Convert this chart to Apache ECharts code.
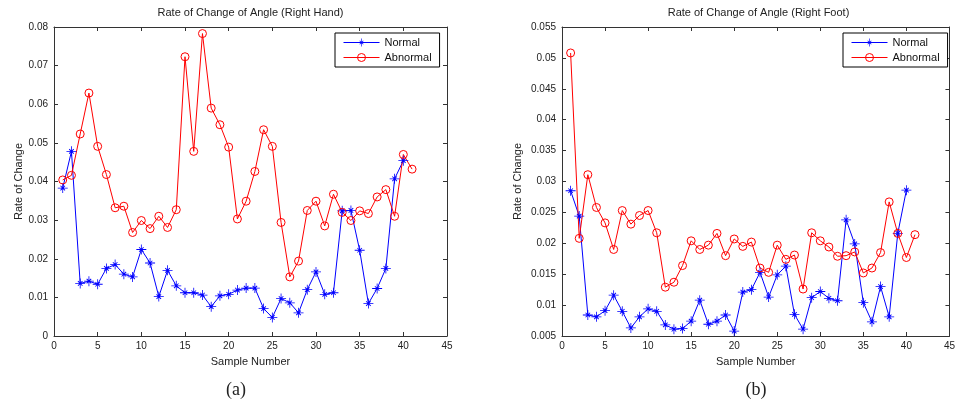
<!DOCTYPE html>
<html>
<head>
<meta charset="utf-8">
<script src="https://cdn.jsdelivr.net/npm/echarts@6/dist/echarts.min.js"></script>
<style>
html,body{margin:0;padding:0;background:#fff;}
#c{width:958px;height:408px;}
</style>
</head>
<body>
<div id="c"></div>
<script>
// ---- data ----
const seriesNames = ['Normal', 'Abnormal'];
const titles = ['Rate of Change of Angle (Right Hand)', 'Rate of Change of Angle (Right Foot)'];
const panelLabels = ['(a)', '(b)'];
const xTicks = [0, 45, 5];           // min, max, interval
const yTicksHand = [0, 0.08, 0.01];
const yTicksFoot = [0.005, 0.055, 0.005];

const handNormal = [0.0383,0.0478,0.0136,0.0142,0.0134,0.0175,0.0185,0.0160,0.0153,0.0224,
  0.0189,0.0102,0.0170,0.0130,0.0112,0.0112,0.0106,0.0076,0.0104,0.0108,
  0.0119,0.0124,0.0124,0.0071,0.0048,0.0097,0.0086,0.0060,0.0120,0.0166,
  0.0108,0.0112,0.0324,0.0325,0.0222,0.0084,0.0123,0.0175,0.0407,0.0454];
const handAbnormal = [0.0404,0.0416,0.0523,0.0629,0.0491,0.0418,0.0332,0.0336,0.0268,0.0299,
  0.0278,0.0310,0.0281,0.0327,0.0723,0.0478,0.0783,0.0590,0.0547,0.0489,
  0.0303,0.0349,0.0426,0.0534,0.0491,0.0294,0.0153,0.0194,0.0325,0.0349,
  0.0285,0.0367,0.0320,0.0299,0.0324,0.0317,0.0360,0.0379,0.0310,0.0470,0.0432];
const footNormal = [0.0285,0.0244,0.0084,0.0081,0.0091,0.0116,0.0090,0.0063,0.0081,0.0094,
  0.0090,0.0068,0.0061,0.0062,0.0074,0.0108,0.0069,0.0074,0.0084,0.0058,
  0.0121,0.0125,0.0153,0.0113,0.0149,0.0163,0.0085,0.0061,0.0112,0.0122,
  0.0111,0.0107,0.0238,0.0199,0.0104,0.0073,0.0130,0.0081,0.0216,0.0286];
const footAbnormal = [0.0508,0.0208,0.0311,0.0258,0.0233,0.0190,0.0253,0.0231,0.0245,0.0253,
  0.0217,0.0129,0.0137,0.0164,0.0204,0.0190,0.0197,0.0216,0.0180,0.0207,
  0.0195,0.0202,0.0160,0.0153,0.0197,0.0174,0.0181,0.0126,0.0217,0.0204,
  0.0194,0.0179,0.0180,0.0186,0.0152,0.0160,0.0185,0.0267,0.0216,0.0177,0.0214];

// ---- styling ----
const FONT = '"Liberation Sans", Arial, sans-serif';
const AXC = '#333';
const starPath = 'path://M-0.8,-10L0.8,-10L0.8,10L-0.8,10Z M-10,-0.8L10,-0.8L10,0.8L-10,0.8Z ' +
  'M3.9,5.2L-5.2,-3.9L-3.9,-5.2L5.2,3.9Z M5.2,-3.9L-3.9,5.2L-5.2,3.9L3.9,-5.2Z';

const grids = [
  {left: 54, top: 27, width: 393, height: 309},
  {left: 562, top: 27, width: 393, height: 309}
];
const fmt = v => String(+v.toFixed(3));

function xAx(gi, pos, showLabel) {
  return {
    type: 'value', gridIndex: gi, position: pos,
    min: xTicks[0], max: xTicks[1], interval: xTicks[2],
    axisLine: {show: true, onZero: false, lineStyle: {color: AXC, width: 1}},
    axisTick: {show: true, inside: true, length: 4, lineStyle: {color: AXC}},
    axisLabel: {show: showLabel, color: '#222', fontSize: 10, fontFamily: FONT, margin: 5},
    splitLine: {show: false},
    name: showLabel ? 'Sample Number' : '', nameLocation: 'middle', nameGap: 20,
    nameTextStyle: {color: '#222', fontSize: 11, fontFamily: FONT}
  };
}
function yAx(gi, pos, showLabel, t, gap) {
  return {
    type: 'value', gridIndex: gi, position: pos,
    min: t[0], max: t[1], interval: t[2],
    axisLine: {show: true, onZero: false, lineStyle: {color: AXC, width: 1}},
    axisTick: {show: true, inside: true, length: 4, lineStyle: {color: AXC}},
    axisLabel: {show: showLabel, color: '#222', fontSize: 10, fontFamily: FONT, margin: 6, formatter: fmt},
    splitLine: {show: false},
    name: showLabel ? 'Rate of Change' : '', nameLocation: 'middle', nameGap: gap, nameRotate: 90,
    nameTextStyle: {color: '#222', fontSize: 11, fontFamily: FONT}
  };
}
function ser(name, data, xi, yi) {
  const normal = name === seriesNames[0];
  const col = normal ? '#0000ff' : '#ff0000';
  return {
    name: name, type: 'line', xAxisIndex: xi, yAxisIndex: yi,
    data: data.map((v, i) => [i + 1, v]),
    symbol: normal ? starPath : 'circle',
    symbolSize: normal ? 10 : 8,
    showSymbol: true,
    lineStyle: {color: col, width: 1},
    itemStyle: normal ? {color: col} : {color: 'rgba(255,255,255,0)', borderColor: col, borderWidth: 1},
    emphasis: {disabled: true},
    animation: false
  };
}
function legend(left) {
  return {
    left: left, top: 33, orient: 'vertical', data: seriesNames,
    backgroundColor: '#fff', borderColor: '#000', borderWidth: 1,
    padding: [4, 8, 4, 8], itemGap: 4, itemWidth: 36, itemHeight: 10,
    lineStyle: {width: 1},
    itemStyle: {borderWidth: 1},
    textStyle: {color: '#111', fontSize: 11, fontFamily: FONT},
    selectedMode: false
  };
}

const option = {
  backgroundColor: '#fff',
  animation: false,
  grid: grids,
  xAxis: [xAx(0, 'bottom', true), xAx(0, 'top', false), xAx(1, 'bottom', true), xAx(1, 'top', false)],
  yAxis: [yAx(0, 'left', true, yTicksHand, 24), yAx(0, 'right', false, yTicksHand, 0),
          yAx(1, 'left', true, yTicksFoot, 39), yAx(1, 'right', false, yTicksFoot, 0)],
  legend: [legend(335), legend(843)],
  series: [
    ser(seriesNames[0], handNormal, 0, 0),
    ser(seriesNames[1], handAbnormal, 0, 0),
    ser(seriesNames[0], footNormal, 2, 2),
    ser(seriesNames[1], footAbnormal, 2, 2)
  ],
  graphic: [
    {type: 'text', x: 250.5, y: 13, style: {text: titles[0], textAlign: 'center', textVerticalAlign: 'middle', font: '11px ' + FONT, fill: '#222'}},
    {type: 'text', x: 758.5, y: 13, style: {text: titles[1], textAlign: 'center', textVerticalAlign: 'middle', font: '11px ' + FONT, fill: '#222'}},
    {type: 'text', x: 236, y: 390, style: {text: panelLabels[0], textAlign: 'center', textVerticalAlign: 'middle', font: '18px "Liberation Serif", "Times New Roman", serif', fill: '#222'}},
    {type: 'text', x: 756, y: 390, style: {text: panelLabels[1], textAlign: 'center', textVerticalAlign: 'middle', font: '18px "Liberation Serif", "Times New Roman", serif', fill: '#222'}}
  ]
};

const chart = echarts.init(document.getElementById('c'), null, {renderer: 'canvas'});
chart.setOption(option);
</script>
</body>
</html>
